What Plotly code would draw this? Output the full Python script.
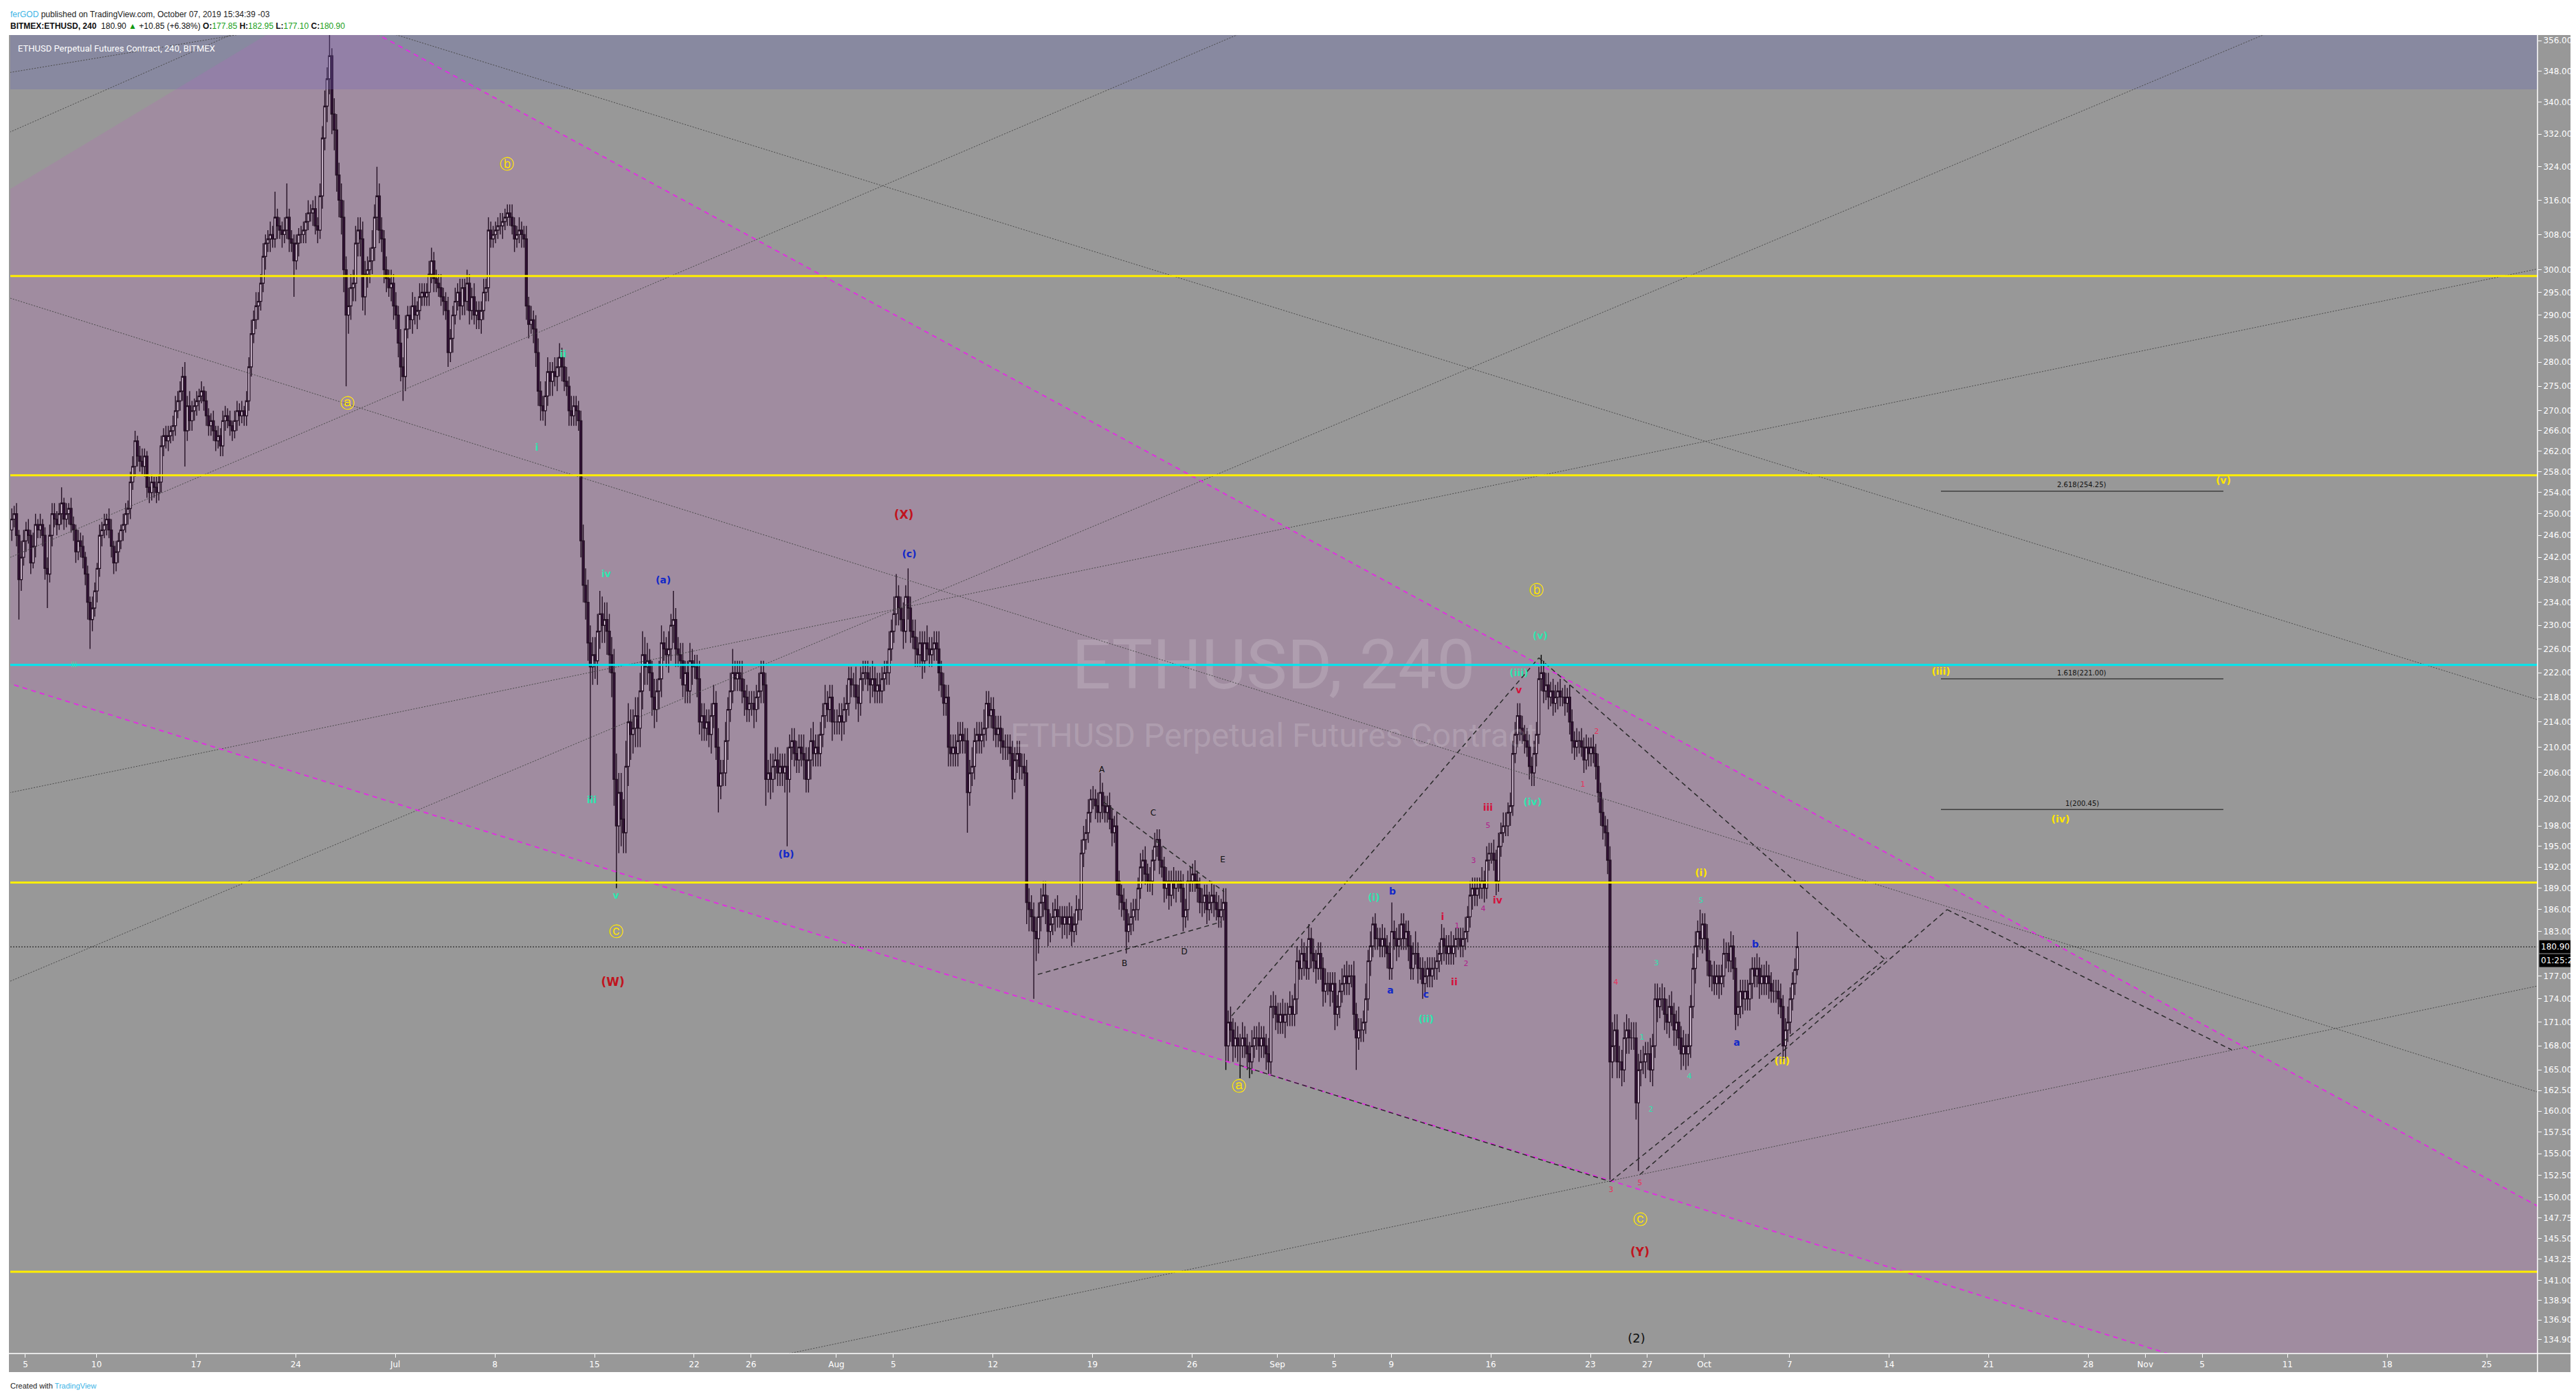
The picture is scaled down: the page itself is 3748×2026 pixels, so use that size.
"""ETHUSD 4h (BitMEX perpetual) with Elliott wave markup, drawn in TradingView style."""

import numpy as np
import pandas as pd
import plotly.graph_objects as go

# ---------------------------------------------------------------------------
# Candles: 4h bars, first bar Jun 4 01:00, last bar Oct 7 13:00 (chart time)
# each row is one day (6 bars)
# ---------------------------------------------------------------------------
FIRST_OPEN = 247.0
FIRST_BAR = "2019-06-04 01:00"

closes = [
    249, 250, 246, 238, 242, 245,  # Jun 4
    247, 246, 241, 244, 248, 247,
    248, 246, 240, 239, 246, 250,
    249, 248, 250, 252, 249, 250,
    251, 248, 247, 243, 245, 244,
    242, 239, 234, 231, 233, 236,  # Jun 9
    240, 246, 247, 248, 249, 247,
    244, 241, 243, 245, 247, 248,
    250, 251, 256, 259, 264, 261,
    260, 259, 261, 255, 254, 256,
    255, 254, 256, 263, 265, 264,  # Jun 14
    265, 266, 267, 270, 272, 274,
    277, 266, 271, 268, 270, 271,
    272, 273, 274, 272, 269, 267,
    268, 266, 264, 265, 263, 268,
    269, 268, 267, 266, 268, 270,  # Jun 19
    269, 270, 269, 272, 279, 286,
    289, 292, 293, 297, 303, 306,
    307, 308, 307, 312, 310, 309,
    308, 309, 312, 307, 306, 302,
    306, 308, 308, 309, 311, 313,  # Jun 24
    313, 314, 310, 309, 317, 331,
    339, 346, 352, 337, 333, 322,
    316, 312, 300, 290, 292, 296,
    297, 306, 309, 307, 294, 299,
    300, 302, 305, 312, 317, 309,  # Jun 29
    307, 300, 298, 296, 297, 292,
    290, 284, 279, 277, 287, 290,  # Jul 1
    289, 292, 290, 291, 294, 295,
    294, 295, 299, 302, 298, 297,
    296, 294, 293, 291, 282, 285,
    290, 293, 295, 292, 296, 293,  # Jul 5
    297, 291, 294, 290, 291, 289,
    291, 295, 296, 309, 307, 308,
    309, 310, 310, 311, 312, 313,
    312, 310, 307, 308, 309, 308,
    307, 292, 288, 289, 287, 282,  # Jul 10
    274, 271, 270, 273, 278, 276,
    278, 277, 279, 281, 279, 276,
    275, 270, 269, 271, 270, 268,
    245, 237, 234, 227, 223, 225,
    224, 229, 232, 230, 231, 229,  # Jul 15
    225, 222, 205, 198, 203, 199,
    197, 207, 214, 212, 213, 215,
    213, 219, 225, 223, 224, 222,
    218, 216, 219, 221, 227, 226,
    225, 226, 230, 231, 226, 225,  # Jul 20
    224, 220, 222, 219, 224, 223,
    223, 221, 214, 215, 213, 214,
    212, 215, 217, 210, 204, 206,
    206, 211, 216, 219, 222, 221,
    222, 221, 219, 218, 216, 217,  # Jul 25
    217, 216, 218, 219, 222, 220,
    205, 206, 205, 207, 208, 206,
    207, 206, 207, 205, 210, 211,
    209, 208, 210, 209, 208, 205,
    208, 211, 209, 210, 209, 212,  # Jul 30
    215, 217, 216, 218, 214, 214,
    214, 215, 214, 216, 217, 221,  # Aug 1
    220, 220, 218, 217, 221, 222,
    222, 221, 220, 221, 219, 220,
    219, 221, 222, 222, 226, 229,
    232, 235, 233, 231, 229, 235,  # Aug 5
    233, 229, 228, 226, 225, 227,
    224, 227, 226, 225, 226, 227,
    226, 222, 220, 217, 218, 210,
    209, 210, 209, 211, 212, 211,
    211, 203, 206, 207, 211, 212,  # Aug 10
    211, 212, 213, 217, 215, 216,
    213, 212, 213, 211, 210, 210,
    210, 209, 205, 208, 209, 207,
    207, 206, 187, 186, 185, 183,
    182, 185, 187, 188, 186, 183,  # Aug 15
    184, 185, 186, 185, 185, 184,
    185, 184, 185, 183, 184, 186,
    186, 194, 196, 197, 200, 202,
    202, 201, 200, 203, 201, 200,
    201, 199, 197, 198, 190, 188,  # Aug 20
    187, 186, 183, 184, 185, 186,
    186, 189, 192, 193, 191, 190,
    190, 193, 195, 196, 193, 192,
    189, 190, 188, 190, 189, 190,
    190, 189, 185, 186, 190, 190,  # Aug 25
    191, 190, 189, 187, 187, 188,
    186, 187, 188, 187, 186, 185,
    186, 187, 168, 171, 170, 168,
    169, 168, 168, 169, 168, 167,
    166, 168, 169, 169, 168, 169,  # Aug 30
    168, 167, 166, 173, 173, 172,
    171, 172, 171, 172, 172, 173,  # Sep 1
    172, 174, 179, 178, 180, 179,
    178, 182, 180, 179, 178, 180,
    178, 175, 176, 176, 175, 176,
    172, 173, 175, 176, 177, 176,  # Sep 5
    177, 177, 172, 169, 170, 170,
    171, 174, 179, 181, 184, 182,
    182, 181, 182, 181, 180, 178,
    183, 182, 181, 182, 184, 182,
    183, 181, 178, 180, 180, 178,  # Sep 10
    178, 176, 177, 178, 177, 178,
    178, 179, 180, 182, 181, 180,
    181, 180, 181, 182, 182, 181,
    182, 183, 185, 188, 189, 188,
    189, 189, 190, 189, 193, 194,  # Sep 15
    194, 193, 190, 195, 197, 198,
    198, 200, 201, 209, 212, 215,
    213, 212, 211, 210, 207, 206,
    209, 212, 221, 222, 219, 220,
    218, 219, 217, 218, 219, 218,  # Sep 20
    218, 217, 218, 214, 211, 210,
    211, 211, 210, 208, 210, 209,
    210, 209, 207, 203, 200, 198,
    197, 193, 166, 168, 170, 166,
    166, 165, 169, 170, 169, 169,  # Sep 25
    169, 161, 165, 166, 166, 167,
    167, 165, 168, 174, 173, 174,
    174, 172, 171, 173, 172, 170,
    171, 169, 167, 168, 167, 168,
    173, 178, 181, 183, 182, 184,  # Sep 30
    182, 179, 177, 177, 176, 177,  # Oct 1
    176, 177, 180, 180, 179, 181,
    178, 172, 173, 175, 174, 175,
    174, 176, 178, 177, 178, 176,
    177, 176, 177, 176, 175, 175,  # Oct 5
    175, 174, 173, 168, 170, 171,
    174, 176, 177.85, 180.90,  # Oct 7
]

# wick length above max(open, close) and below min(open, close), same layout
wick_up = [
    2, 1.5, 2, 1, 3, 2,  # Jun 4
    1.5, 2, 1, 2.5, 2, 1,
    2, 1, 1.5, 2, 2, 2,
    2, 1.5, 2, 3, 1, 2,
    1, 2, 1.5, 1, 2, 1.5,
    2, 1, 1.5, 1, 2, 1.5,
    1, 2, 1.5, 2, 1, 2,
    2, 1, 2, 1.5, 1, 2,
    2, 1.5, 2, 2, 2, 1,
    2, 2.5, 1.5, 1, 2, 1.5,
    1, 2, 1.5, 2, 1.5, 2,
    2, 1, 2, 3, 2, 2,
    2, 3, 2, 3, 2, 1.5,
    2, 1.5, 2, 1, 2, 1.5,
    1.5, 2, 1, 2, 1.5, 2,
    2, 1.5, 2, 1, 2, 2,
    1.5, 2, 1, 2, 2, 3,
    2, 3, 2, 2, 3, 2,
    2, 3, 2, 6, 2, 2,
    2, 3, 8, 2, 2, 2,
    2, 1.5, 2, 2, 2, 3,
    2, 2, 3, 2, 3, 3,
    4, 3, 9, 2, 4, 4,
    3, 4, 4, 3, 4, 3,
    3, 4, 3, 3, 4, 3,
    3, 3, 4, 3, 7, 3,
    3, 2, 3, 2, 3, 2,
    3, 2, 3, 2, 3, 2,  # Jul 1
    2, 3, 2, 2, 3, 2,
    2, 2, 3, 3, 2, 2,
    2, 3, 2, 2, 3, 2,
    2, 3, 2, 3, 2, 2,
    3, 2, 2, 3, 2, 2,
    2, 3, 2, 3, 2, 2,
    2, 2, 3, 2, 2, 2,
    2, 3, 2, 2, 3, 2,
    2, 3, 2, 3, 2, 3,
    3, 2, 2, 3, 3, 2,
    2, 3, 2, 3, 2, 2,
    3, 2, 3, 2, 2, 2,
    2, 3, 3, 4, 3, 3,
    3, 3, 4, 3, 3, 3,
    3, 3, 4, 4, 3, 3,
    3, 4, 3, 2, 3, 3,
    3, 3, 4, 3, 3, 2,
    2, 3, 2, 3, 3, 2,
    2, 3, 2, 5, 2, 2,
    2, 3, 2, 2, 3, 2,
    2, 2, 3, 2, 2, 2,
    2, 2, 3, 2, 3, 2,
    2, 3, 2, 3, 4, 2,
    2, 2, 3, 2, 2, 2,
    2, 2, 2, 3, 2, 2,
    2, 2, 3, 2, 2, 2,
    2, 2, 2, 3, 2, 2,
    2, 2, 2, 2, 3, 2,
    2, 2, 3, 2, 2, 2,
    2, 3, 2, 2, 2, 2,
    2, 2, 2, 2, 3, 2,  # Aug 1
    2, 2, 3, 2, 2, 2,
    2, 2, 2, 3, 2, 2,
    2, 2, 2, 2, 3, 2,
    3, 4, 2, 2, 3, 2,
    5, 2, 2, 3, 2, 2,
    2, 2, 3, 2, 2, 2,
    2, 3, 2, 2, 2, 2,
    2, 2, 2, 3, 2, 2,
    2, 2, 2, 3, 2, 2,
    2, 2, 3, 2, 2, 2,
    2, 2, 2, 2, 2, 2,
    2, 2, 2, 2, 2, 2,
    2, 2, 2, 2, 2, 2,
    2, 2, 2, 2, 2, 2,
    1.5, 2, 1.5, 2, 1.5, 1.5,
    1.5, 1.5, 2, 1.5, 1.5, 2,
    1.5, 2, 2, 2, 2, 1.5,
    2, 1.5, 2, 3, 1.5, 1.5,
    1.5, 2, 1.5, 1.5, 2, 1.5,
    1.5, 2, 1.5, 1.5, 2, 1.5,
    1.5, 1.5, 2, 1.5, 2, 1.5,
    2, 1.5, 2, 1.5, 1.5, 2,
    1.5, 2, 1.5, 1.5, 2, 1.5,
    1.5, 1.5, 2, 1.5, 1.5, 2,
    1.5, 2, 1.5, 1.5, 2, 1.5,
    1.5, 1.5, 2, 1.5, 1.5, 2,
    1.5, 2, 2, 1.5, 2, 1.5,
    2, 1.5, 1.5, 2, 1.5, 1.5,
    1.5, 2, 1.5, 1.5, 2, 1.5,
    1.5, 1.5, 2, 1.5, 2, 1.5,
    1.5, 1.5, 2, 1.5, 1.5, 2,  # Sep 1
    1.5, 2, 2, 1.5, 2, 1.5,
    2, 2, 1.5, 2, 1.5, 1.5,
    1.5, 1.5, 2, 1.5, 1.5, 1.5,
    1.5, 1.5, 1.5, 2, 1.5, 2,
    1.5, 1.5, 2, 1.5, 1.5, 1.5,
    1.5, 2, 1.5, 2, 1, 1.5,
    1.5, 1.5, 2, 1.5, 1.5, 1.5,
    4, 1.5, 1.5, 2, 1.5, 1.5,
    1.5, 1.5, 1.5, 1.5, 3, 1.5,
    1.5, 1.5, 2, 1.5, 1.5, 1.5,
    1.5, 1.5, 1.5, 2, 1.5, 1.5,
    1.5, 2, 1.5, 1.5, 1.5, 1.5,
    1.5, 2, 1.5, 2, 1.5, 1.5,
    1.5, 1.5, 2, 1.5, 2, 1.5,
    1.5, 2, 1.5, 2, 1.5, 2,
    2, 1.5, 2, 2, 2, 2,
    2, 2, 1.5, 2, 2, 1.5,
    2, 2, 2, 3, 2, 2,
    2, 1.5, 2, 2, 1.5, 2,
    1.5, 2, 1.5, 2, 2, 1.5,
    2, 1.5, 2, 1.5, 2, 1.5,
    1.5, 2, 1.5, 2, 1.5, 2,
    1.5, 2, 2, 3, 2, 2,
    2, 1.5, 2, 2, 1.5, 2,
    2, 2, 2, 1.5, 2, 1.5,
    1.5, 2, 1.5, 2, 2, 1.5,
    2, 1.5, 2, 1.5, 2, 1.5,
    1.5, 2, 1.5, 2, 1.5, 1.5,
    1.5, 2, 2, 1.5, 3, 1.5,
    1.5, 2, 1.5, 1.5, 2, 1.5,  # Oct 1
    1.5, 1.5, 2, 1.5, 1.5, 2,
    1.5, 1.5, 2, 1.5, 1.5, 1.5,
    1.5, 2, 1.5, 1.5, 2, 1.5,
    1.5, 1.5, 2, 1.5, 1.5, 1.5,
    1.5, 1.5, 2, 1.5, 1.5, 2,
    1.5, 1.5, 1.5, 2.05,
]

wick_dn = [
    2, 1.5, 2, 7, 2, 1.5,  # Jun 4
    2, 1.5, 2, 1, 2, 1.5,
    1.5, 2, 2, 6, 1.5, 2,
    1.5, 2, 1, 2, 2, 1.5,
    2, 1.5, 2, 2, 1.5, 2,
    2, 2, 3, 5, 2, 1.5,
    2, 1.5, 2, 1.5, 2, 1.5,
    2, 2, 1.5, 2, 1.5, 2,
    1.5, 2, 2, 1.5, 2, 2,
    2, 1.5, 2, 2, 2, 1.5,
    2, 2, 1.5, 2, 2, 1.5,
    2, 1.5, 2, 2, 1.5, 2,
    2, 7, 2, 2, 2, 2,
    2, 2, 1.5, 2, 2, 2,
    2, 2, 2, 1.5, 2, 2,
    2, 1.5, 2, 2, 1.5, 2,
    2, 1.5, 2, 2, 2, 2,
    2, 2, 3, 2, 2, 3,
    2, 3, 2, 2, 3, 2,
    3, 2, 2, 3, 2, 8,
    2, 3, 2, 2, 3, 2,
    2, 3, 2, 3, 2, 3,
    3, 4, 4, 5, 5, 4,
    4, 4, 5, 15, 4, 3,
    3, 4, 3, 4, 3, 4,
    3, 3, 3, 3, 3, 3,
    3, 3, 3, 2, 3, 3,
    3, 3, 3, 5, 3, 2,  # Jul 1
    2, 3, 2, 3, 2, 2,
    2, 2, 3, 2, 3, 2,
    2, 2, 3, 2, 3, 2,
    3, 2, 2, 3, 2, 3,
    2, 3, 2, 2, 3, 2,
    3, 2, 2, 3, 2, 2,
    2, 2, 2, 3, 2, 2,
    2, 2, 3, 2, 2, 3,
    2, 3, 3, 2, 3, 3,
    3, 3, 2, 3, 2, 3,
    3, 2, 3, 2, 3, 2,
    2, 3, 2, 2, 3, 2,
    3, 3, 3, 3, 21, 3,
    3, 4, 3, 3, 3, 4,
    3, 4, 4, 9, 4, 4,
    3, 3, 3, 4, 3, 3,
    3, 3, 3, 3, 3, 3,
    3, 3, 2, 3, 3, 2,
    2, 3, 2, 3, 3, 2,
    3, 2, 3, 2, 2, 3,
    2, 3, 2, 3, 2, 2,
    2, 3, 2, 2, 4, 2,
    2, 2, 3, 2, 2, 2,
    2, 2, 2, 3, 2, 2,
    2, 3, 2, 2, 2, 3,
    4, 2, 3, 2, 2, 2,
    2, 2, 3, 10, 2, 2,
    2, 2, 2, 2, 3, 2,
    2, 3, 2, 2, 2, 2,
    2, 2, 2, 2, 3, 2,
    2, 2, 3, 2, 2, 2,  # Aug 1
    2, 2, 2, 3, 2, 2,
    2, 2, 3, 2, 2, 2,
    2, 2, 2, 2, 2, 2,
    2, 2, 3, 2, 3, 2,
    2, 2, 2, 3, 2, 2,
    3, 2, 2, 2, 2, 2,
    2, 3, 2, 2, 2, 3,
    2, 2, 2, 2, 2, 2,
    2, 6, 2, 2, 2, 2,
    2, 2, 2, 2, 2, 2,
    2, 2, 2, 2, 2, 2,
    2, 2, 3, 2, 2, 2,
    2, 2, 3, 3, 2, 9,
    3, 2, 2, 2, 2, 2,
    1.5, 1.5, 2, 1.5, 1.5, 2,
    1.5, 2, 1.5, 2, 1.5, 1.5,
    1.5, 1.5, 2, 1.5, 1.5, 1.5,
    1.5, 2, 1.5, 1.5, 2, 1.5,
    1.5, 1.5, 2, 1.5, 2, 2,
    2, 1.5, 3, 1.5, 1.5, 2,
    1.5, 1.5, 1.5, 2, 1.5, 1.5,
    1.5, 2, 1.5, 1.5, 2, 1.5,
    2, 1.5, 2, 1.5, 1.5, 2,
    1.5, 2, 2, 1.5, 1.5, 1.5,
    1.5, 1.5, 2, 1.5, 2, 1.5,
    2, 1.5, 1.5, 2, 1.5, 1.5,
    1.5, 1.5, 3, 2, 1.5, 2,
    1.5, 2, 4, 1.5, 1.5, 2,
    2, 1.5, 1.5, 1.5, 2, 1.5,
    1.5, 2, 1.5, 1.5, 1.5, 2,
    1.5, 1.5, 1.5, 2, 1.5, 1.5,  # Sep 1
    1.5, 1.5, 2, 1.5, 1.5, 2,
    1.5, 1.5, 2, 1.5, 2, 1.5,
    1.5, 2, 1.5, 1.5, 2, 1.5,
    2, 1.5, 1.5, 1.5, 1.5, 1.5,
    1.5, 1.5, 2, 4, 1.5, 1.5,
    1.5, 1.5, 1.5, 2, 1.5, 1.5,
    1.5, 1.5, 1.5, 1.5, 2, 1.5,
    1.5, 1.5, 2, 1.5, 1.5, 1.5,
    1.5, 2, 1.5, 1.5, 1.5, 2,
    1.5, 2, 1.5, 1.5, 1.5, 1.5,
    1.5, 1.5, 1.5, 1.5, 2, 1.5,
    1.5, 1.5, 1.5, 1.5, 1.5, 1.5,
    1.5, 1.5, 1.5, 1.5, 2, 1.5,
    1.5, 1.5, 1.5, 2, 1.5, 1.5,
    1.5, 1.5, 2, 1.5, 1.5, 1.5,
    1.5, 1.5, 2, 1.5, 1.5, 2,
    2, 1.5, 2, 1.5, 2, 2,
    2, 2, 1.5, 2, 2, 1.5,
    2, 1.5, 2, 1.5, 2, 1.5,
    1.5, 2, 1.5, 2, 2, 2,
    1.5, 2, 1.5, 2, 1.5, 2,
    2, 1.5, 2, 1.5, 2, 2,
    2, 2, 14, 2, 2, 2,
    2, 2, 1.5, 2, 2, 1.5,
    1.5, 2, 8, 2, 1.5, 2,
    2, 1.5, 2, 1.5, 2, 1.5,
    1.5, 2, 1.5, 2, 1.5, 2,
    2, 1.5, 2, 1.5, 2, 1.5,
    1.5, 1.5, 2, 1.5, 1.5, 2,
    1.5, 2, 1.5, 2, 1.5, 1.5,  # Oct 1
    2, 1.5, 1.5, 2, 1.5, 1.5,
    1.5, 2, 1.5, 1.5, 2, 1.5,
    1.5, 1.5, 2, 1.5, 1.5, 2,
    1.5, 1.5, 1.5, 2, 1.5, 1.5,
    1.5, 2, 1.5, 2, 1.5, 1.5,
    1.5, 1.5, 1.5, 0.75,
]

# ---------------------------------------------------------------------------
# Axes
# ---------------------------------------------------------------------------
X_RANGE = ["2019-06-03 22:30", "2019-11-28 13:40"]
PRICE_MIN, PRICE_MAX = 133.5, 357.5

price_ticks = [
    356, 348, 340, 332, 324, 316, 308, 300, 295, 290, 285, 280, 275, 270,
    266, 262, 258, 254, 250, 246, 242, 238, 234, 230, 226, 222, 218, 214,
    210, 206, 202, 198, 195, 192, 189, 186, 183, 177, 174, 171, 168, 165,
    162.5, 160, 157.5, 155, 152.5, 150, 147.75, 145.5, 143.25, 141, 138.9,
    136.9, 134.9,
]

time_tick_dates = [
    "2019-06-05", "2019-06-10", "2019-06-17", "2019-06-24", "2019-07-01",
    "2019-07-08", "2019-07-15", "2019-07-22", "2019-07-26", "2019-08-01",
    "2019-08-05", "2019-08-12", "2019-08-19", "2019-08-26", "2019-09-01",
    "2019-09-05", "2019-09-09", "2019-09-16", "2019-09-23", "2019-09-27",
    "2019-10-01", "2019-10-07", "2019-10-14", "2019-10-21", "2019-10-28",
    "2019-11-01", "2019-11-05", "2019-11-11", "2019-11-18", "2019-11-25",
]
time_tick_text = [
    "5", "10", "17", "24", "Jul", "8", "15", "22", "26", "Aug", "5", "12",
    "19", "26", "Sep", "5", "9", "16", "23", "27", "Oct", "7", "14", "21",
    "28", "Nov", "5", "11", "18", "25",
]

# ---------------------------------------------------------------------------
# Drawings
# ---------------------------------------------------------------------------
LAST_PRICE = 180.90
yellow_levels = [298.6, 257.3, 189.8, 141.9]
cyan_level = 223.3
band_bottom, band_top = 343.3, 420.0

# purple wedge (corners lie outside the visible window)
wedge_time = ["2019-06-25 16:20", "2019-12-13 20:00", "2019-12-13 20:00", "2019-04-26 19:40"]
wedge_price = [366.2, 136.5, 116.5, 249.7]

# thin dotted trend lines: (t0, p0, t1, p1)
dotted_lines = [
    ("2019-05-29 18:30", 298.8, "2019-12-04 04:00", 159.3),
    ("2019-06-22 22:00", 367.3, "2019-12-04 04:00", 213.6),
    ("2019-07-24 07:40", 132.2, "2019-12-04 04:00", 177.9),
    ("2019-05-29 18:30", 200.7, "2019-12-04 04:00", 303.9),
    ("2019-05-29 18:30", 172.3, "2019-11-15 08:00", 367.3),
    ("2019-05-29 18:30", 236.4, "2019-09-04 02:40", 367.3),
    ("2019-05-29 18:30", 344.5, "2019-07-05 02:20", 367.3),
    ("2019-05-29 18:30", 324.6, "2019-06-25 04:40", 367.3),
]

# dashed black structure lines (triangle, wedge, projections)
dashed_lines = [
    ("2019-08-15 03:50", 177.2, "2019-08-28 01:25", 184.3),
    ("2019-08-19 18:00", 201.6, "2019-08-28 06:00", 188.5),
    ("2019-08-28 18:40", 171.8, "2019-09-19 09:00", 224.5),
    ("2019-09-19 09:00", 224.5, "2019-10-13 19:40", 179.0),
    ("2019-08-29 07:30", 165.6, "2019-09-24 09:40", 151.8),
    ("2019-09-24 09:40", 151.8, "2019-10-13 19:40", 179.4),
    ("2019-09-26 11:30", 152.6, "2019-10-18 01:40", 186.0),
    ("2019-10-18 01:40", 186.0, "2019-11-07 01:40", 167.5),
]

fib_levels = [254.25, 221.00, 200.45]
fib_labels = ["2.618(254.25)", "1.618(221.00)", "1(200.45)"]
fib_span = ["2019-10-17 15:20", "2019-11-06 11:45"]

# wave labels: (text, time, price, kind)
wave_labels = [
    ("iii", "2019-06-08 10:20", 223.2, "teal_small"),
    ("ⓐ", "2019-06-27 14:40", 271.3, "circle"),
    ("ⓑ", "2019-07-08 19:40", 324.4, "circle"),
    ("i", "2019-07-10 22:30", 262.6, "teal"),
    ("ii", "2019-07-12 18:40", 281.5, "teal"),
    ("iii", "2019-07-14 19:20", 201.8, "teal"),
    ("iv", "2019-07-15 19:40", 238.9, "teal"),
    ("v", "2019-07-16 12:00", 187.9, "teal"),
    ("ⓒ", "2019-07-16 12:00", 182.8, "circle"),
    ("(W)", "2019-07-16 07:00", 176.1, "red"),
    ("(a)", "2019-07-19 20:00", 237.8, "blue"),
    ("(b)", "2019-07-28 11:30", 193.7, "blue"),
    ("(X)", "2019-08-05 17:45", 249.6, "red"),
    ("(c)", "2019-08-06 03:00", 242.5, "blue"),
    ("A", "2019-08-19 15:40", 206.4, "black"),
    ("B", "2019-08-21 06:00", 178.6, "black"),
    ("C", "2019-08-23 06:40", 199.9, "black"),
    ("D", "2019-08-25 10:50", 180.2, "black"),
    ("E", "2019-08-28 03:40", 193.0, "black"),
    ("ⓐ", "2019-08-29 06:30", 162.9, "circle"),
    ("(i)", "2019-09-07 18:45", 187.6, "teal"),
    ("b", "2019-09-09 02:10", 188.4, "blue"),
    ("a", "2019-09-08 22:35", 175.0, "blue"),
    ("c", "2019-09-11 10:50", 174.5, "blue"),
    ("(ii)", "2019-09-11 10:50", 171.3, "teal"),
    ("i", "2019-09-12 14:40", 184.9, "crimson"),
    ("ii", "2019-09-13 10:20", 176.1, "crimson"),
    ("1", "2019-09-13 15:10", 183.7, "magenta"),
    ("2", "2019-09-14 06:15", 178.6, "magenta"),
    ("3", "2019-09-14 19:00", 192.9, "magenta"),
    ("4", "2019-09-15 11:05", 186.1, "magenta"),
    ("5", "2019-09-15 19:10", 198.0, "magenta"),
    ("iii", "2019-09-15 19:10", 200.6, "crimson"),
    ("iv", "2019-09-16 11:30", 187.2, "crimson"),
    ("v", "2019-09-17 23:20", 219.0, "crimson"),
    ("(iii)", "2019-09-17 23:20", 221.9, "teal"),
    ("(iv)", "2019-09-18 22:35", 201.4, "teal"),
    ("(v)", "2019-09-19 11:20", 228.1, "teal"),
    ("ⓑ", "2019-09-19 05:30", 235.9, "circle"),
    ("1", "2019-09-22 11:20", 204.2, "rednum"),
    ("2", "2019-09-23 10:20", 212.4, "rednum"),
    ("3", "2019-09-24 10:50", 150.8, "rednum"),
    ("4", "2019-09-24 19:00", 176.1, "rednum"),
    ("5", "2019-09-26 11:30", 151.6, "rednum"),
    ("ⓒ", "2019-09-26 11:30", 147.4, "circle"),
    ("(Y)", "2019-09-26 11:30", 143.9, "red"),
    ("(2)", "2019-09-26 05:45", 134.9, "count"),
    ("1", "2019-09-26 15:00", 169.0, "tealnum"),
    ("2", "2019-09-27 06:00", 160.2, "tealnum"),
    ("3", "2019-09-27 15:20", 178.7, "tealnum"),
    ("4", "2019-09-29 23:00", 164.2, "tealnum"),
    ("5", "2019-09-30 18:40", 187.2, "tealnum"),
    ("(i)", "2019-09-30 18:40", 191.1, "yellow"),
    ("a", "2019-10-03 07:00", 168.3, "blue"),
    ("b", "2019-10-04 14:10", 181.1, "blue"),
    ("(ii)", "2019-10-06 11:30", 166.0, "yellow"),
    ("(iii)", "2019-10-17 15:20", 222.1, "yellow"),
    ("(iv)", "2019-10-26 01:00", 198.9, "yellow"),
    ("(v)", "2019-11-06 11:45", 256.1, "yellow"),
]

# watermark anchor (centre of the pane)
watermark_time = "2019-08-31 17:30"
watermark_prices = [222.3, 211.4]
watermark_text = ["ETHUSD, 240", "ETHUSD Perpetual Futures Contract"]

# ---------------------------------------------------------------------------
# Styling
# ---------------------------------------------------------------------------
W, H = 3748, 2026
M_L, M_R, M_T, M_B = 7, 64, 43, 64
BG_GRAY = "#989898"
LABEL_FONT = "DejaVu Sans"

LABEL_STYLES = {
    "circle": ("#ffe600", 21, False),
    "teal": ("#2ee6ae", 14, True),
    "teal_small": ("#2ee6ae", 10, False),
    "tealnum": ("#2ee6ae", 11, False),
    "red": ("#c0141e", 17, True),
    "crimson": ("#d3123c", 14, True),
    "rednum": ("#e8305a", 11, False),
    "blue": ("#1228c8", 14, True),
    "magenta": ("#b0208c", 11, False),
    "black": ("#111111", 12, False),
    "count": ("#111111", 18, False),
    "yellow": ("#ffe600", 14, True),
}


def px_to_paper_x(px: float) -> float:
    """Convert a screen x pixel into paper coordinates of the pane."""
    return (px - M_L) / (W - M_L - M_R)


def px_to_paper_y(py: float) -> float:
    """Convert a screen y pixel into paper coordinates of the pane."""
    return (H - M_B - py) / (H - M_T - M_B)


def segments(lines):
    """Join (t0, p0, t1, p1) segments into one x/y pair with gaps."""
    xs, ys = [], []
    for t0, p0, t1, p1 in lines:
        xs += [t0, t1, None]
        ys += [p0, p1, None]
    return xs, ys


def line_trace(xs, ys, color, width, dash="solid"):
    return go.Scatter(
        x=xs, y=ys, mode="lines", line=dict(color=color, width=width, dash=dash),
        hoverinfo="skip", showlegend=False,
    )


# ---------------------------------------------------------------------------
# Build candles
# ---------------------------------------------------------------------------
n_bars = min(len(closes), len(wick_up), len(wick_dn))
closes = closes[:n_bars]
times = pd.date_range(FIRST_BAR, periods=n_bars, freq="4h")
opens = [FIRST_OPEN] + closes[:-1]
highs = [max(o, c) + u for o, c, u in zip(opens, closes, wick_up)]
lows = [min(o, c) - d for o, c, d in zip(opens, closes, wick_dn)]

fig = go.Figure()

# top blue-grey band
fig.add_trace(go.Scatter(
    x=[X_RANGE[0], X_RANGE[1], X_RANGE[1], X_RANGE[0], X_RANGE[0]],
    y=[band_bottom, band_bottom, band_top, band_top, band_bottom],
    fill="toself", fillcolor="rgba(99,102,179,0.30)", mode="lines",
    line=dict(width=0), hoverinfo="skip", showlegend=False,
))

# purple wedge
fig.add_trace(go.Scatter(
    x=wedge_time + wedge_time[:1], y=wedge_price + wedge_price[:1],
    fill="toself", fillcolor="rgba(200,90,200,0.18)", mode="lines",
    line=dict(width=0), hoverinfo="skip", showlegend=False,
))

# watermark behind the candles
fig.add_trace(go.Scatter(
    x=[watermark_time, watermark_time], y=watermark_prices, mode="text",
    text=watermark_text,
    textfont=dict(family="Roboto", size=[100, 48], color="rgba(255,255,255,0.16)"),
    hoverinfo="skip", showlegend=False,
))

fig.add_trace(go.Candlestick(
    x=times, open=opens, high=highs, low=lows, close=closes,
    increasing=dict(line=dict(color="#000000", width=1.4), fillcolor="#ffffff"),
    decreasing=dict(line=dict(color="#000000", width=1.4), fillcolor="#14001a"),
    whiskerwidth=0, hoverinfo="skip", showlegend=False,
))

# gray dotted trend lines
xs, ys = segments(dotted_lines)
fig.add_trace(line_trace(xs, ys, "#4a4a4a", 1, "2px,2px"))

# magenta wedge borders
upper = (wedge_time[0], wedge_price[0], wedge_time[1], wedge_price[1])
lower = (wedge_time[3], wedge_price[3], wedge_time[2], wedge_price[2])
xs, ys = segments([upper, lower])
fig.add_trace(line_trace(xs, ys, "#e030e0", 2, "7px,6px"))

# dashed black structure
xs, ys = segments(dashed_lines)
fig.add_trace(line_trace(xs, ys, "#2a2a2a", 1.5, "7px,5px"))

# horizontal levels
for level in yellow_levels:
    fig.add_trace(line_trace(X_RANGE, [level, level], "#ffee00", 3))
fig.add_trace(line_trace(X_RANGE, [cyan_level, cyan_level], "#00e8f0", 3))
fig.add_trace(line_trace(X_RANGE, [LAST_PRICE, LAST_PRICE], "#111111", 1, "2px,2px"))

# fib extension lines
for level in fib_levels:
    fig.add_trace(line_trace(fib_span, [level, level], "#111111", 1))

# wave labels
label_text, label_color, label_size = [], [], []
for text, _, _, kind in wave_labels:
    color, size, bold = LABEL_STYLES[kind]
    label_text.append(f"<b>{text}</b>" if bold else text)
    label_color.append(color)
    label_size.append(size)
fig.add_trace(go.Scatter(
    x=[lab[1] for lab in wave_labels], y=[lab[2] for lab in wave_labels],
    mode="text", text=label_text,
    textfont=dict(family=LABEL_FONT, color=label_color, size=label_size),
    cliponaxis=False, hoverinfo="skip", showlegend=False,
))

# fib captions sit just above their lines
fib_mid = pd.Timestamp(fib_span[0]) + (pd.Timestamp(fib_span[1]) - pd.Timestamp(fib_span[0])) / 2
annotations = [
    dict(x=fib_mid, y=np.log10(level), text=label, showarrow=False, yshift=9,
         font=dict(family=LABEL_FONT, size=10, color="#111111"))
    for level, label in zip(fib_levels, fib_labels)
]

# last price + countdown boxes on the price scale
annotations += [
    dict(xref="paper", x=px_to_paper_x(3686), y=np.log10(LAST_PRICE), xanchor="left",
         text="180.90 ", showarrow=False, bgcolor="#000000", borderpad=2,
         font=dict(family=LABEL_FONT, size=12, color="#ffffff")),
    dict(xref="paper", x=px_to_paper_x(3686), y=np.log10(LAST_PRICE), xanchor="left",
         text="01:25:23", showarrow=False, bgcolor="#000000", borderpad=2, yshift=-20,
         font=dict(family=LABEL_FONT, size=12, color="#ffffff")),
]

# header, pane title and footer
annotations += [
    dict(xref="paper", yref="paper", x=px_to_paper_x(5), y=px_to_paper_y(13),
         xanchor="left", yanchor="middle", showarrow=False,
         text='<span style="color:#3cb4e6">ferGOD</span> published on TradingView.com, '
              "October 07, 2019 15:34:39 -03",
         font=dict(family="Liberation Sans", size=12, color="#222222")),
    dict(xref="paper", yref="paper", x=px_to_paper_x(5), y=px_to_paper_y(30),
         xanchor="left", yanchor="middle", showarrow=False,
         text='<b>BITMEX:ETHUSD, 240</b>  180.90 <span style="color:#119911">▲</span> '
              '+10.85 (+6.38%) <b>O:</b><span style="color:#1aa01a">177.85</span> '
              '<b>H:</b><span style="color:#1aa01a">182.95</span> '
              '<b>L:</b><span style="color:#1aa01a">177.10</span> '
              '<b>C:</b><span style="color:#1aa01a">180.90</span>',
         font=dict(family="Liberation Sans", size=12, color="#111111")),
    dict(xref="paper", yref="paper", x=px_to_paper_x(16), y=px_to_paper_y(62),
         xanchor="left", yanchor="middle", showarrow=False,
         text="ETHUSD Perpetual Futures Contract, 240, BITMEX",
         font=dict(family="Roboto", size=13, color="#ffffff")),
    dict(xref="paper", yref="paper", x=px_to_paper_x(5), y=px_to_paper_y(2009),
         xanchor="left", yanchor="middle", showarrow=False,
         text='Created with <span style="color:#3cb4e6">TradingView</span>',
         font=dict(family="Liberation Sans", size=11, color="#222222")),
]

shapes = [
    # grey chart frame incl. both scales
    dict(type="rect", xref="paper", yref="paper", layer="below",
         x0=px_to_paper_x(5), x1=px_to_paper_x(W), y0=px_to_paper_y(1989), y1=px_to_paper_y(M_T),
         fillcolor=BG_GRAY, line=dict(width=0)),
    # scale separators
    dict(type="line", xref="paper", yref="paper", x0=px_to_paper_x(5), x1=px_to_paper_x(W),
         y0=0, y1=0, line=dict(color="#ffffff", width=1.5)),
    dict(type="line", xref="paper", yref="paper", x0=1, x1=1,
         y0=px_to_paper_y(1989), y1=1, line=dict(color="#ffffff", width=1.5)),
]

fig.update_layout(
    width=W, height=H,
    margin=dict(l=M_L, r=M_R, t=M_T, b=M_B),
    paper_bgcolor="#ffffff", plot_bgcolor=BG_GRAY,
    showlegend=False, hovermode=False,
    boxgap=0.15, boxgroupgap=0.0,
    annotations=annotations, shapes=shapes,
    xaxis=dict(
        type="date", range=X_RANGE, rangeslider=dict(visible=False),
        tickmode="array", tickvals=time_tick_dates, ticktext=time_tick_text,
        ticks="outside", ticklen=5, tickcolor="#ffffff", showgrid=False,
        zeroline=False, showline=False,
        tickfont=dict(family=LABEL_FONT, size=12, color="#ffffff"),
    ),
    yaxis=dict(
        type="log", side="right", range=[np.log10(PRICE_MIN), np.log10(PRICE_MAX)],
        tickmode="array", tickvals=price_ticks,
        ticktext=[f"{v:.2f}" for v in price_ticks],
        ticks="outside", ticklen=5, tickcolor="#ffffff", showgrid=False,
        zeroline=False, showline=False,
        tickfont=dict(family=LABEL_FONT, size=12, color="#ffffff"),
    ),
)

fig.write_html("out.html")
